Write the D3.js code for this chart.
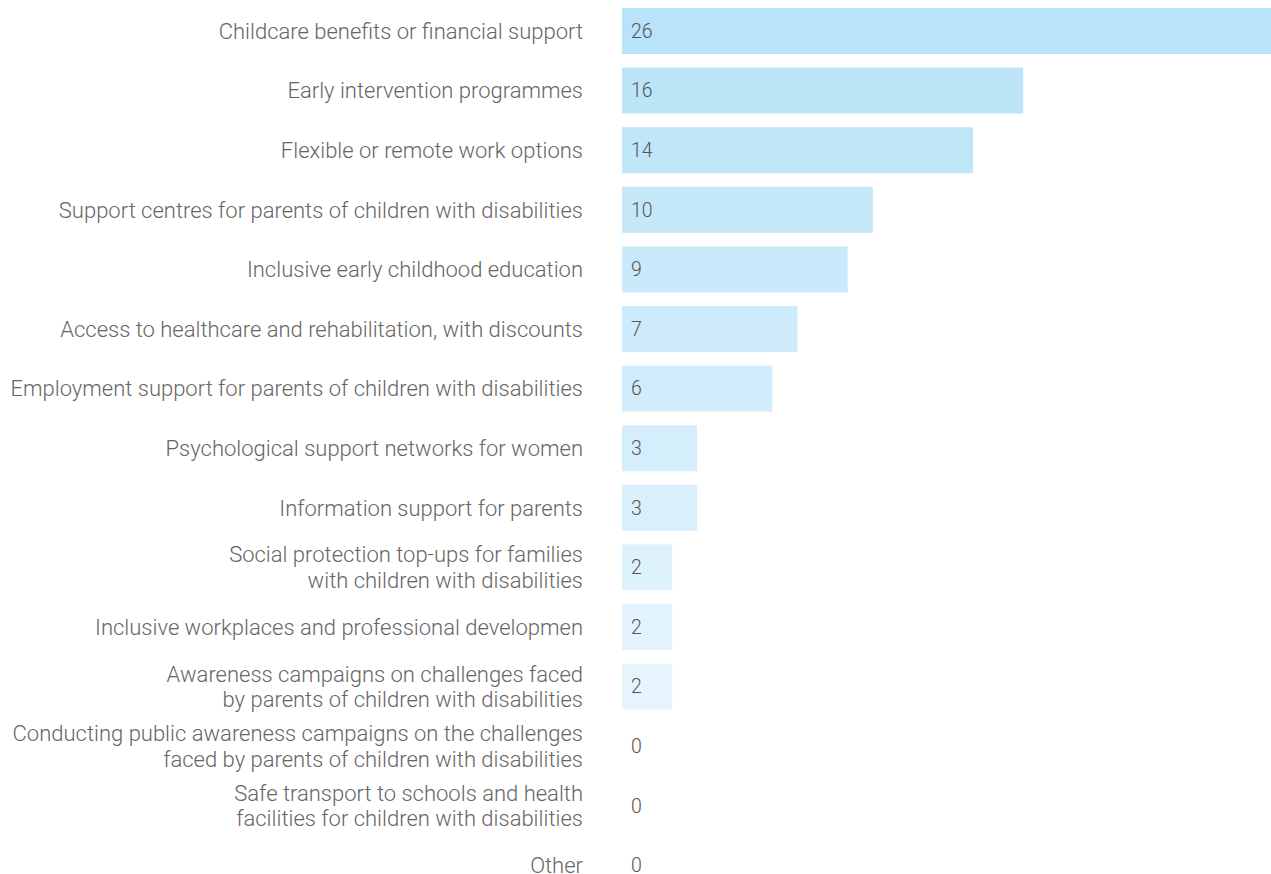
<!DOCTYPE html>
<html>
<head>
<meta charset="utf-8">
<script src="https://cdn.jsdelivr.net/npm/d3@7"></script>
<style>
  html, body { margin: 0; padding: 0; background: #fff; }
  svg { display: block; }
</style>
</head>
<body>
<svg id="chart" width="1271" height="874"></svg>
<script>
// Measures mentioned in responses (count)
const categories = [
  ["Childcare benefits or financial support"],
  ["Early intervention programmes"],
  ["Flexible or remote work options"],
  ["Support centres for parents of children with disabilities"],
  ["Inclusive early childhood education"],
  ["Access to healthcare and rehabilitation, with discounts"],
  ["Employment support for parents of children with disabilities"],
  ["Psychological support networks for women"],
  ["Information support for parents"],
  ["Social protection top-ups for families", "with children with disabilities"],
  ["Inclusive workplaces and professional developmen"],
  ["Awareness campaigns on challenges faced", "by parents of children with disabilities"],
  ["Conducting public awareness campaigns on the challenges", "faced by parents of children with disabilities"],
  ["Safe transport to schools and health", "facilities for children with disabilities"],
  ["Other"]
];
const values = [26, 16, 14, 10, 9, 7, 6, 3, 3, 2, 2, 2, 0, 0, 0];

const svg = d3.select("#chart");
const barLeft = 622, barRight = 1274, labelRight = 583;
const fontFamily = "'Roboto Light', Roboto, sans-serif";

const y = d3.scaleBand()
  .domain(d3.range(categories.length))
  .range([1.2, 1.2 + 59.6 * categories.length])
  .paddingInner(0.228)
  .paddingOuter(0.114);

const x = d3.scaleLinear()
  .domain([0, d3.max(values)])
  .range([barLeft, barRight]);

const color = d3.scaleLinear()
  .domain([0, 11])
  .range(["#b8e3f8", "#e6f5fd"])
  .interpolate(d3.interpolateRgb)
  .clamp(true);

const rows = svg.selectAll("g.row")
  .data(values.map((v, i) => ({ v, i, label: categories[i] })))
  .join("g")
  .attr("class", "row");

rows.append("rect")
  .attr("x", x(0))
  .attr("y", d => y(d.i))
  .attr("width", d => x(d.v) - x(0))
  .attr("height", y.bandwidth())
  .attr("fill", d => color(d.i));

rows.append("text")
  .attr("x", barLeft + 9)
  .attr("y", d => y(d.i) + y.bandwidth() / 2)
  .attr("dy", "0.35em")
  .attr("font-family", fontFamily)
  .attr("font-weight", 300)
  .attr("font-size", 19.5)
  .attr("fill", "#555")
  .text(d => d.v);

const lineH = 25.5;
const labels = rows.append("text")
  .attr("text-anchor", "end")
  .attr("font-family", fontFamily)
  .attr("font-weight", 300)
  .attr("font-size", 22)
  .attr("fill", "#666");

labels.each(function (d) {
  const cy = y(d.i) + y.bandwidth() / 2;
  const n = d.label.length;
  d3.select(this).selectAll("tspan")
    .data(d.label)
    .join("tspan")
    .attr("x", labelRight)
    .attr("y", (t, k) => cy + (k - (n - 1) / 2) * lineH)
    .attr("dy", "0.35em")
    .text(t => t);
});
</script>
</body>
</html>
